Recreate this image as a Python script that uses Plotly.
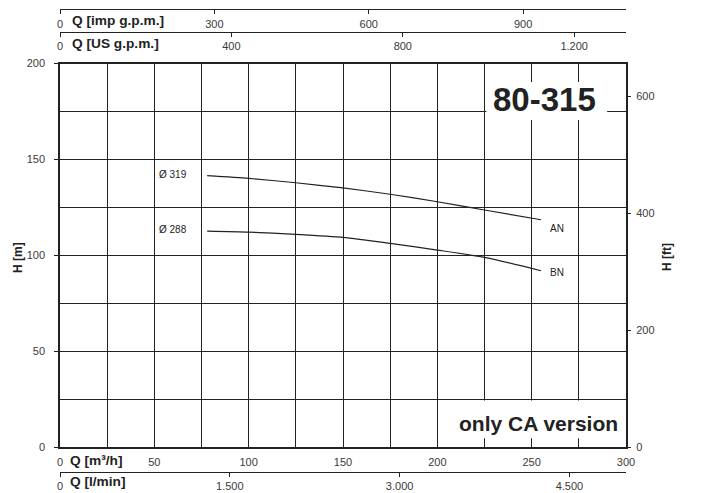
import plotly.graph_objects as go

# pump curves 80-315, Q in m3/h, H in m
q_an = [78, 100, 125, 150, 175, 200, 225, 255]
h_an = [141.5, 140.1, 137.8, 135.1, 131.8, 127.9, 123.6, 118.5]
q_bn = [78, 100, 125, 150, 175, 200, 225, 255]
h_bn = [112.6, 112.1, 110.9, 109.3, 106.2, 102.7, 98.9, 91.9]

imp_ticks = [0, 300, 600, 900]
imp_text = ["0", "300", "600", "900"]
us_ticks = [0, 400, 800, 1200]
us_text = ["0", "400", "800", "1.200"]
lmin_ticks = [0, 1500, 3000, 4500]
lmin_text = ["0", "1.500", "3.000", "4.500"]
ft_ticks = [0, 200, 400, 600]

Q_MAX = 300
H_MAX = 200
IMP = 3.66615   # imp gpm per m3/h
USG = 4.40287   # US gpm per m3/h
LMIN = 16.6667  # l/min per m3/h
FT = 3.28084

FONT = "Liberation Sans, Arial, sans-serif"
INK = "#222"
TXT = "#3a3a3a"

# the page body has an 8px margin, so the figure is drawn 8px in from the corner
OFF = 8
W, H = 701 - OFF, 493 - OFF
ML, MR, MT, MB = 60 - OFF, 75, 0, 0


def px(x):
    return (x - OFF - ML) / (W - ML - MR)


def py(y):
    return (H - MB - (y - OFF)) / (H - MT - MB)


fig = go.Figure()
fig.add_trace(go.Scatter(x=q_an, y=h_an, mode="lines", line=dict(color=INK, width=1.2, shape="spline", smoothing=0.6),
                         hoverinfo="skip", showlegend=False))
fig.add_trace(go.Scatter(x=q_bn, y=h_bn, mode="lines", line=dict(color=INK, width=1.2, shape="spline", smoothing=0.6),
                         hoverinfo="skip", showlegend=False))
# empty traces so the extra axes get drawn
for xa, ya in [("x2", "y"), ("x3", "y"), ("x4", "y"), ("x", "y2")]:
    fig.add_trace(go.Scatter(x=[], y=[], xaxis=xa, yaxis=ya, hoverinfo="skip", showlegend=False))

tickfont = dict(family=FONT, size=11, color=TXT)
ydom = [py(447), py(63.5)]

extra = dict(showgrid=False, zeroline=False, showline=True, linecolor=INK, linewidth=1.2,
             ticks="outside", ticklen=4, tickcolor=INK, tickwidth=1, tickfont=tickfont,
             automargin=False)

fig.update_layout(
    width=W, height=H,
    margin=dict(l=ML, r=MR, t=MT, b=MB, autoexpand=False),
    paper_bgcolor="white", plot_bgcolor="white",
    xaxis=dict(range=[0, Q_MAX], dtick=50, tick0=0, showgrid=True, gridcolor=INK, gridwidth=1,
               minor=dict(dtick=25, showgrid=True, gridcolor=INK, gridwidth=1, ticks=""),
               showline=True, linecolor=INK, linewidth=1.5, mirror=True, ticks="",
               tickfont=tickfont, zeroline=False, ticklabelstandoff=4, automargin=False),
    yaxis=dict(range=[0, H_MAX], domain=ydom, dtick=50, tick0=0, showgrid=True, gridcolor=INK, gridwidth=1,
               minor=dict(dtick=25, showgrid=True, gridcolor=INK, gridwidth=1, ticks=""),
               showline=True, linecolor=INK, linewidth=1.5, mirror=True,
               ticks="outside", ticklen=4, tickcolor=INK, tickwidth=1,
               tickfont=tickfont, zeroline=False, ticklabelstandoff=7, automargin=False),
    yaxis2=dict(range=[0, H_MAX * FT], overlaying="y", side="right", anchor="x",
                tickvals=ft_ticks, showgrid=False, zeroline=False, showline=False,
                ticks="outside", ticklen=4, tickcolor=INK, tickwidth=1, tickfont=tickfont,
                ticklabelstandoff=3, automargin=False),
    xaxis2=dict(range=[0, Q_MAX * IMP], overlaying="x", anchor="free", position=py(8.7), side="bottom",
                tickvals=imp_ticks, ticktext=imp_text, ticklabelstandoff=1, **extra),
    xaxis3=dict(range=[0, Q_MAX * USG], overlaying="x", anchor="free", position=py(32), side="bottom",
                tickvals=us_ticks, ticktext=us_text, ticklabelstandoff=0, **extra),
    xaxis4=dict(range=[0, Q_MAX * LMIN], overlaying="x", anchor="free", position=py(472), side="bottom",
                tickvals=lmin_ticks, ticktext=lmin_text, ticklabelstandoff=0, **extra),
)

# white boxes behind the headings
fig.add_shape(type="rect", x0=226, x1=290, y0=170.5, y1=190.4, xref="x", yref="y",
              fillcolor="white", line_width=0, layer="above")
fig.add_shape(type="rect", x0=201.2, x1=297, y0=4.6, y1=24.2, xref="x", yref="y",
              fillcolor="white", line_width=0, layer="above")

bold = dict(family=FONT, color=INK)
small = dict(family=FONT, size=10, color=INK)
ann = [
    dict(text="<b>80-315</b>", x=257, y=181, xref="x", yref="y", font=dict(size=33, **bold)),
    dict(text="<b>only CA version</b>", x=253.4, y=12, xref="x", yref="y", font=dict(size=21, **bold)),
    dict(text="Ø 319", x=51.5, y=141.9, xref="x", yref="y", xanchor="left", font=small),
    dict(text="Ø 288", x=51.5, y=113.5, xref="x", yref="y", xanchor="left", font=small),
    dict(text="AN", x=258.6, y=114.1, xref="x", yref="y", xanchor="left", font=small),
    dict(text="BN", x=258.4, y=90.9, xref="x", yref="y", xanchor="left", font=small),
    dict(text="<b>Q [imp g.p.m.]</b>", x=px(70), y=py(20.5), xref="paper", yref="paper", xanchor="left",
         font=dict(size=13.7, **bold)),
    dict(text="<b>Q [US g.p.m.]</b>", x=px(70), y=py(44), xref="paper", yref="paper", xanchor="left",
         font=dict(size=13.7, **bold)),
    dict(text="<b>Q [m³/h]</b>", x=px(68), y=py(460.5), xref="paper", yref="paper", xanchor="left",
         font=dict(size=13.7, **bold)),
    dict(text="<b>Q [l/min]</b>", x=px(68), y=py(481.5), xref="paper", yref="paper", xanchor="left",
         font=dict(size=13.7, **bold)),
    dict(text="<b>H [m]</b>", x=px(18), y=py(258), xref="paper", yref="paper", xanchor="center",
         textangle=-90, font=dict(size=12, **bold)),
    dict(text="<b>H [ft]</b>", x=px(667), y=py(257), xref="paper", yref="paper", xanchor="center",
         textangle=-90, font=dict(size=12, **bold)),
]
for a in ann:
    a.setdefault("showarrow", False)
    a.setdefault("yanchor", "middle")
    fig.add_annotation(**a)

fig.write_html("out.html")
